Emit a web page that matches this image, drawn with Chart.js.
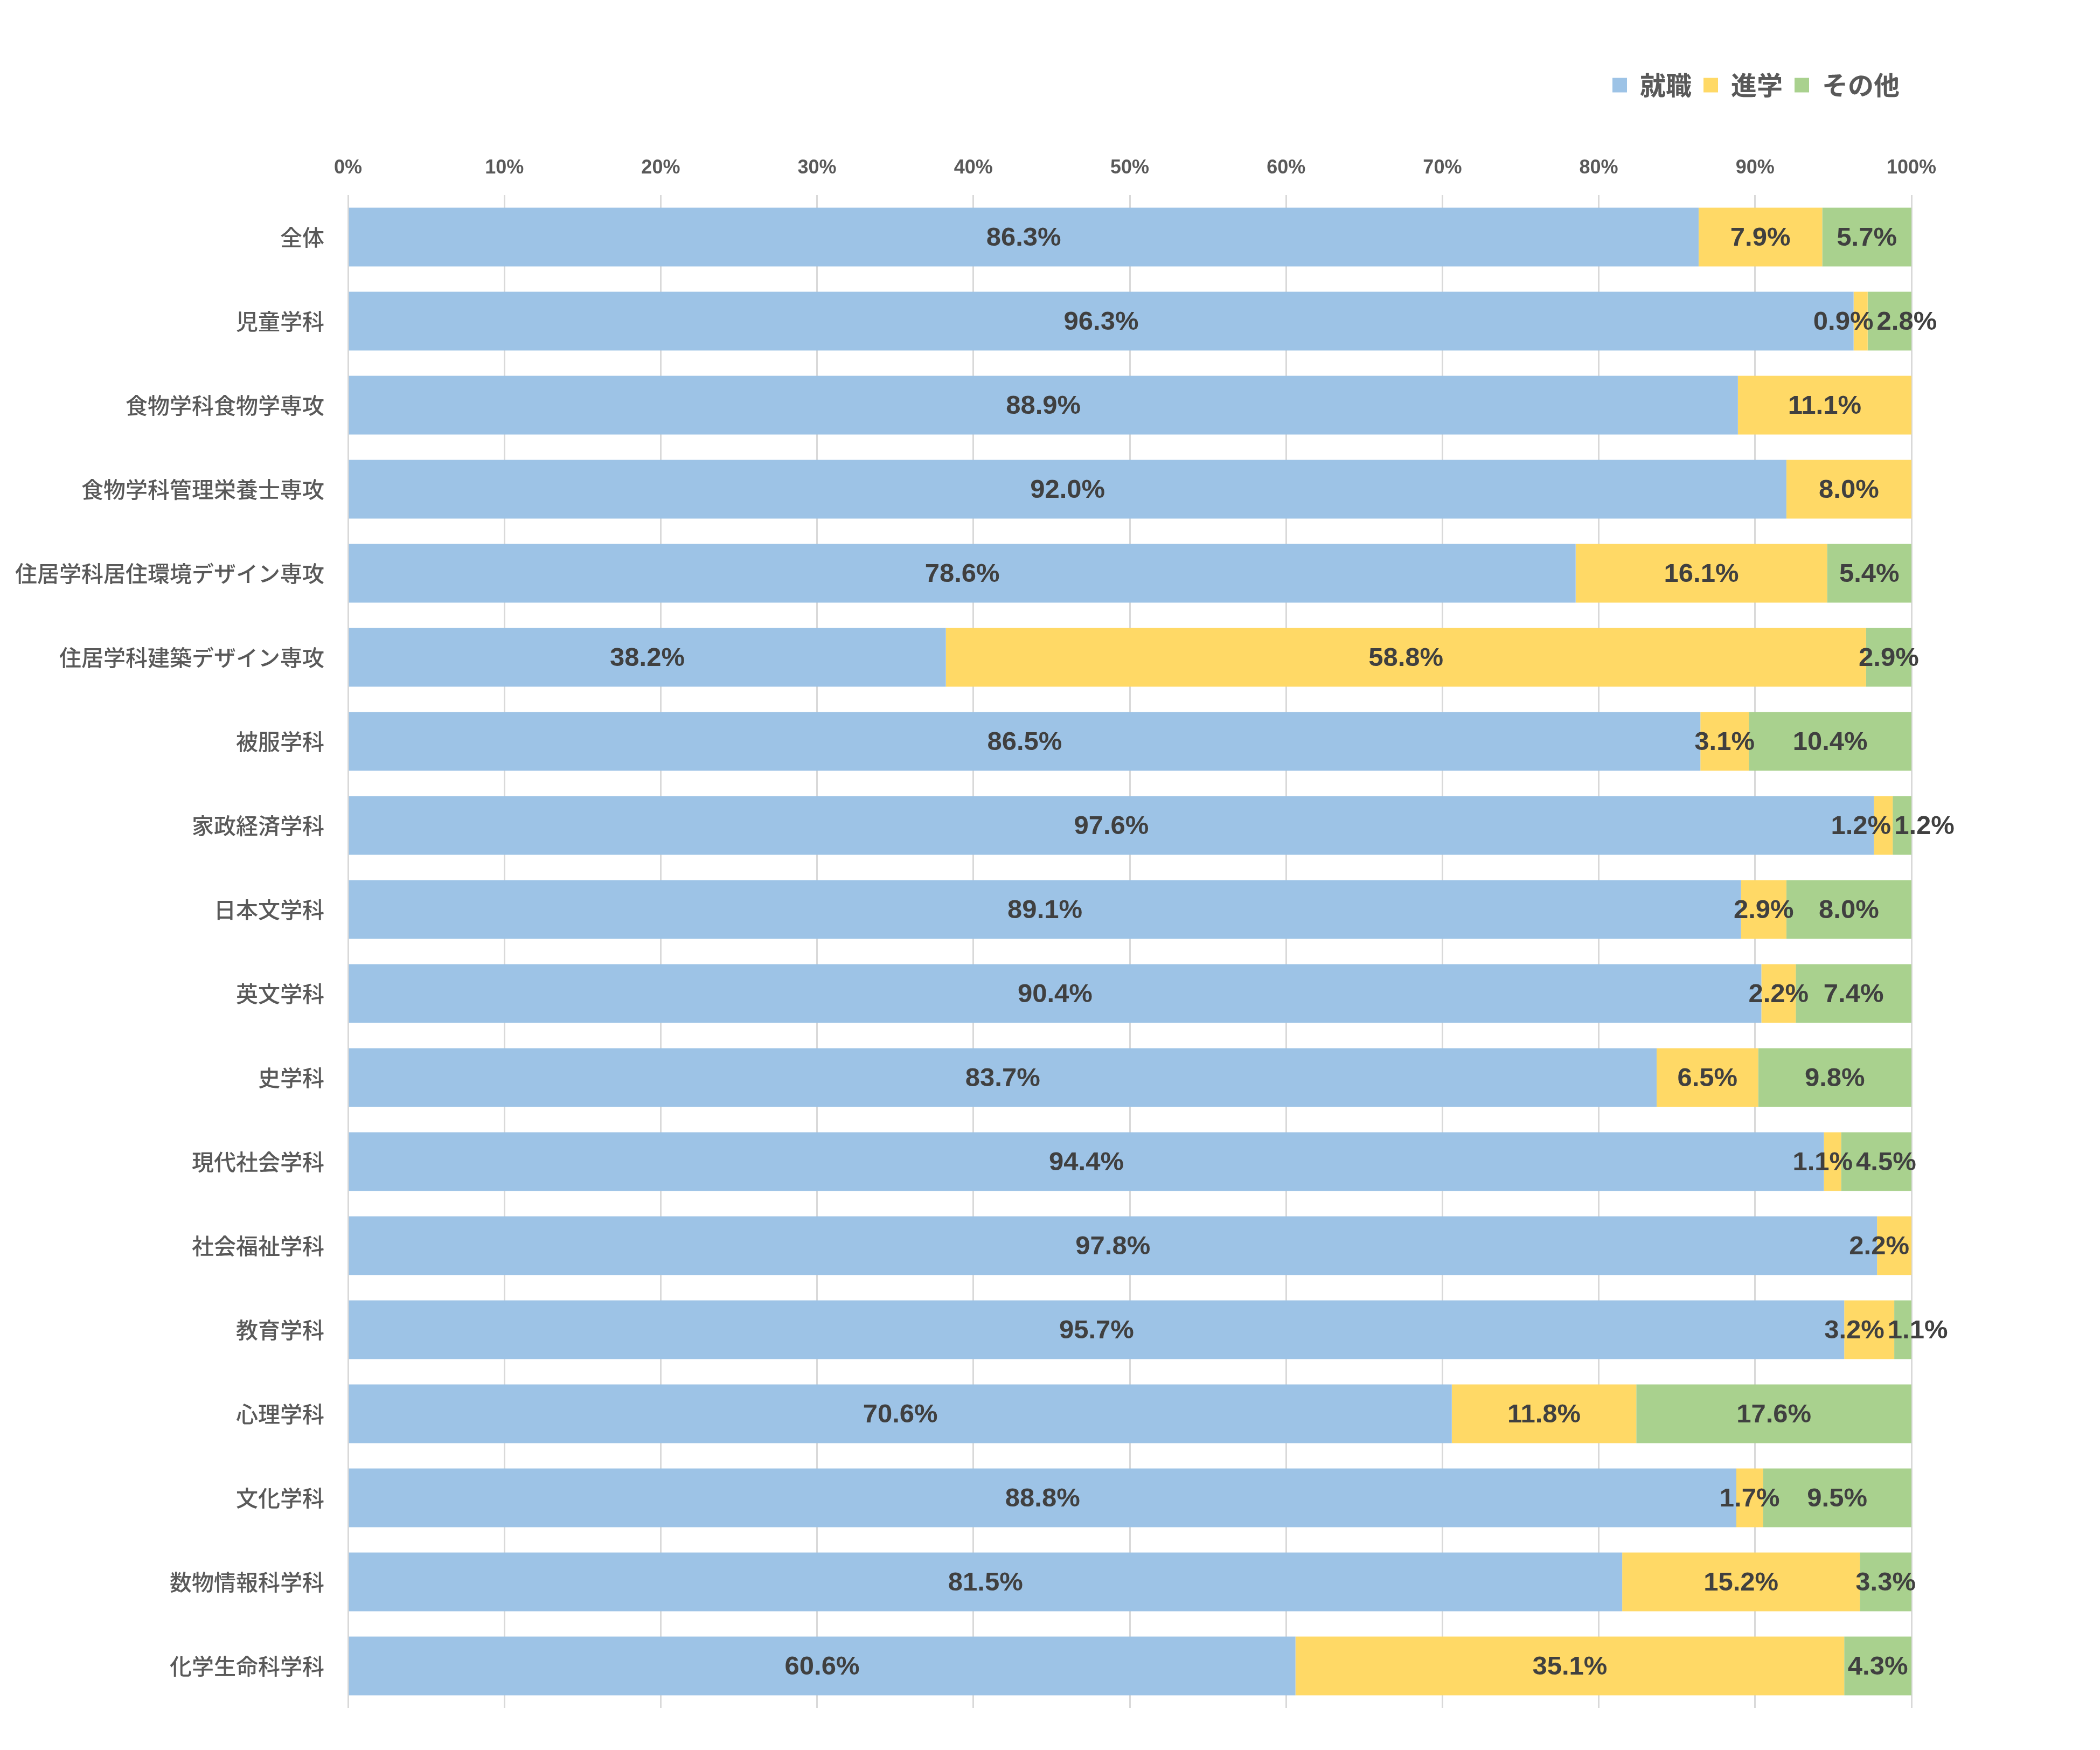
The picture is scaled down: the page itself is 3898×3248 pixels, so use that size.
<!DOCTYPE html>
<html>
<head>
<meta charset="utf-8">
<script src="https://cdn.jsdelivr.net/npm/chart.js@4.4.1/dist/chart.umd.min.js"></script>
<style>
  html, body { margin: 0; padding: 0; background: #fff; }
  #wrap { width: 3898px; height: 3248px; }
</style>
</head>
<body>
<div id="wrap"><canvas id="myChart" width="3898" height="3248"></canvas></div>
<script>
const departments = [
    '全体', '児童学科', '食物学科食物学専攻', '食物学科管理栄養士専攻',
    '住居学科居住環境デザイン専攻', '住居学科建築デザイン専攻', '被服学科', '家政経済学科',
    '日本文学科', '英文学科', '史学科', '現代社会学科', '社会福祉学科', '教育学科',
    '心理学科', '文化学科', '数物情報科学科', '化学生命科学科'
]
const shushoku = [86.3, 96.3, 88.9, 92.0, 78.6, 38.2, 86.5, 97.6, 89.1, 90.4, 83.7, 94.4, 97.8, 95.7, 70.6, 88.8, 81.5, 60.6]
const shingaku = [7.9, 0.9, 11.1, 8.0, 16.1, 58.8, 3.1, 1.2, 2.9, 2.2, 6.5, 1.1, 2.2, 3.2, 11.8, 1.7, 15.2, 35.1]
const sonota = [5.7, 2.8, 0, 0, 5.4, 2.9, 10.4, 1.2, 8.0, 7.4, 9.8, 4.5, 0, 1.1, 17.6, 9.5, 3.3, 4.3]
const xTicks = [0, 10, 20, 30, 40, 50, 60, 70, 80, 90, 100]

const series = [shushoku, shingaku, sonota]
const seriesNames = ['就職', '進学', 'その他']
const colors = ['#9DC3E6', '#FFD966', '#A9D18E']

// 100% stacked, like the spreadsheet chart: each row is scaled to its own total
const totals = departments.map((_, i) => shushoku[i] + shingaku[i] + sonota[i])
const share = arr => arr.map((v, i) => v / totals[i] * 100)

const numFont = "'Liberation Sans', Arial, sans-serif"
const jpFont = "'Noto Sans CJK JP', 'Noto Sans', sans-serif"

// labels in the middle of each segment, pushed apart when neighbours collide
const barLabels = {
    id: 'barLabels',
    afterDatasetsDraw(chart) {
        const ctx = chart.ctx
        const right = chart.chartArea.right
        ctx.save()
        ctx.font = 'bold 49px ' + numFont
        ctx.fillStyle = '#404040'
        ctx.textAlign = 'center'
        ctx.textBaseline = 'middle'
        departments.forEach((_, i) => {
            const items = []
            series.forEach((s, d) => {
                const raw = s[i]
                if (!raw) return
                const bar = chart.getDatasetMeta(d).data[i]
                const text = raw.toFixed(1) + '%'
                items.push({ x: (bar.x + bar.base) / 2, y: bar.y, w: ctx.measureText(text).width, text, moved: false })
            })
            for (let k = 1; k < items.length; k++) {
                const a = items[k - 1], b = items[k]
                const overlap = (a.x + a.w / 2 + 6) - (b.x - b.w / 2)
                if (overlap > 0) {
                    a.x -= overlap / 2
                    b.x += overlap / 2
                    a.moved = b.moved = true
                }
            }
            // a lone label sticking well past the end of the bar is pulled back in
            const last = items[items.length - 1]
            if (!last.moved && last.x + last.w / 2 - right > 15) last.x = right - last.w / 2 - 4
            items.forEach(it => ctx.fillText(it.text, it.x, it.y + 2))
        })
        ctx.restore()
    }
}

const data = {
    labels: departments,
    datasets: series.map((s, d) => ({
        label: seriesNames[d],
        data: share(s),
        backgroundColor: colors[d],
        borderWidth: 0,
        barPercentage: 0.70,
        categoryPercentage: 1.0
    }))
}

const config = {
    type: 'bar',
    data,
    options: {
        indexAxis: 'y',
        responsive: false,
        animation: false,
        devicePixelRatio: 1,
        layout: { padding: { top: 112, right: 350, bottom: 78, left: 0 } },
        plugins: {
            legend: {
                position: 'top',
                align: 'end',
                labels: {
                    boxWidth: 27,
                    boxHeight: 27,
                    padding: 22,
                    color: '#595959',
                    font: { family: jpFont, size: 48, weight: 'bold' }
                }
            },
            tooltip: { enabled: false }
        },
        scales: {
            x: {
                position: 'top',
                stacked: true,
                min: 0,
                max: 100,
                afterBuildTicks: scale => { scale.ticks = xTicks.map(v => ({ value: v })) },
                afterFit: scale => { scale.height = 170 },
                ticks: {
                    padding: 28,
                    color: '#595959',
                    font: { family: numFont, size: 36, weight: 'bold' },
                    callback: v => v + '%'
                },
                grid: { color: '#d9d9d9', lineWidth: 3, drawTicks: false },
                border: { display: false }
            },
            y: {
                stacked: true,
                afterFit: scale => { scale.width = 646 },
                ticks: {
                    padding: 36,
                    color: '#595959',
                    font: { family: jpFont, size: 41, weight: '500' }
                },
                grid: { display: false },
                border: { display: false }
            }
        }
    },
    plugins: [barLabels]
}

const myChart = new Chart(document.getElementById('myChart').getContext('2d'), config)
</script>
</body>
</html>
